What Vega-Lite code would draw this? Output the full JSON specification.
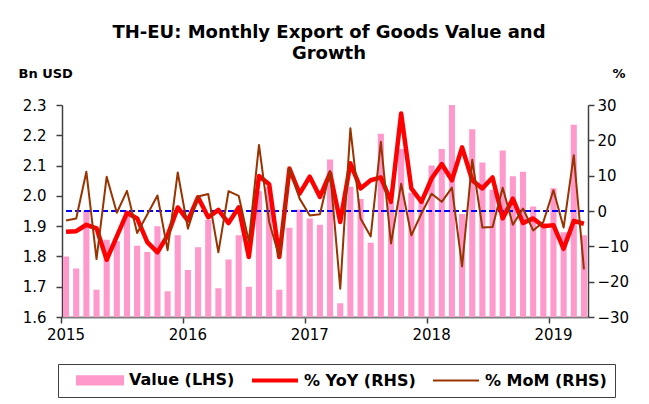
{
  "$schema": "https://vega.github.io/schema/vega-lite/v6.json",
  "width": 526,
  "height": 212,
  "autosize": {"type": "none"},
  "padding": {"left": 62, "top": 105, "right": 61, "bottom": 87},
  "background": "white",
  "config": {
    "view": {"stroke": null},
    "font": "DejaVu Sans",
    "axis": {"grid": false, "labelFont": "DejaVu Sans", "labelFontSize": 15, "labelColor": "#000000", "tickColor": "#404040", "domainColor": "#404040", "tickSize": 6, "domainWidth": 1.5, "tickWidth": 1.5, "labelOverlap": false}
  },
  "title": {
    "text": ["TH-EU: Monthly Export of Goods Value and", "Growth"],
    "font": "DejaVu Sans",
    "fontSize": 18,
    "fontWeight": "bold",
    "color": "#000000",
    "anchor": "middle",
    "lineHeight": 21,
    "dx": 4,
    "offset": 4
  },
  "data": {
    "values": [
      {"month": "2015-01", "value": 1.80, "yoy": -5.9, "mom": -2.7},
      {"month": "2015-02", "value": 1.76, "yoy": -5.7, "mom": -2.1},
      {"month": "2015-03", "value": 1.95, "yoy": -3.9, "mom": 11.1},
      {"month": "2015-04", "value": 1.69, "yoy": -4.9, "mom": -13.6},
      {"month": "2015-05", "value": 1.855, "yoy": -13.8, "mom": 9.7},
      {"month": "2015-06", "value": 1.85, "yoy": -7.2, "mom": -0.5},
      {"month": "2015-07", "value": 1.95, "yoy": -0.5, "mom": 5.7},
      {"month": "2015-08", "value": 1.835, "yoy": -2.1, "mom": -6.2},
      {"month": "2015-09", "value": 1.815, "yoy": -8.8, "mom": -1.0},
      {"month": "2015-10", "value": 1.90, "yoy": -11.7, "mom": 4.4},
      {"month": "2015-11", "value": 1.685, "yoy": -6.9, "mom": -11.1},
      {"month": "2015-12", "value": 1.87, "yoy": 1.0, "mom": 10.9},
      {"month": "2016-01", "value": 1.755, "yoy": -2.7, "mom": -5.0},
      {"month": "2016-02", "value": 1.83, "yoy": 3.9, "mom": 4.1},
      {"month": "2016-03", "value": 1.92, "yoy": -1.8, "mom": 4.8},
      {"month": "2016-04", "value": 1.695, "yoy": 0.3, "mom": -11.7},
      {"month": "2016-05", "value": 1.79, "yoy": -3.4, "mom": 5.6},
      {"month": "2016-06", "value": 1.87, "yoy": 1.0, "mom": 4.3},
      {"month": "2016-07", "value": 1.70, "yoy": -13.0, "mom": -8.6},
      {"month": "2016-08", "value": 2.015, "yoy": 9.9, "mom": 18.7},
      {"month": "2016-09", "value": 2.03, "yoy": 7.6, "mom": -3.1},
      {"month": "2016-10", "value": 1.69, "yoy": -13.0, "mom": -13.0},
      {"month": "2016-11", "value": 1.895, "yoy": 12.0, "mom": 12.2},
      {"month": "2016-12", "value": 1.955, "yoy": 4.9, "mom": 3.5},
      {"month": "2017-01", "value": 1.925, "yoy": 9.7, "mom": -1.3},
      {"month": "2017-02", "value": 1.905, "yoy": 4.0, "mom": -0.9},
      {"month": "2017-03", "value": 2.12, "yoy": 10.7, "mom": 11.3},
      {"month": "2017-04", "value": 1.645, "yoy": -3.1, "mom": -22.0},
      {"month": "2017-05", "value": 2.03, "yoy": 13.5, "mom": 23.4},
      {"month": "2017-06", "value": 1.99, "yoy": 6.4, "mom": -2.1},
      {"month": "2017-07", "value": 1.845, "yoy": 8.7, "mom": -7.2},
      {"month": "2017-08", "value": 2.205, "yoy": 9.5, "mom": 19.6},
      {"month": "2017-09", "value": 1.98, "yoy": 2.6, "mom": -9.2},
      {"month": "2017-10", "value": 2.155, "yoy": 27.6, "mom": 7.7},
      {"month": "2017-11", "value": 2.01, "yoy": 6.4, "mom": -6.9},
      {"month": "2017-12", "value": 1.98, "yoy": 2.6, "mom": -0.7},
      {"month": "2018-01", "value": 2.10, "yoy": 9.2, "mom": 4.9},
      {"month": "2018-02", "value": 2.155, "yoy": 13.3, "mom": 2.6},
      {"month": "2018-03", "value": 2.30, "yoy": 8.7, "mom": 6.6},
      {"month": "2018-04", "value": 1.94, "yoy": 18.0, "mom": -15.7},
      {"month": "2018-05", "value": 2.22, "yoy": 8.7, "mom": 14.5},
      {"month": "2018-06", "value": 2.11, "yoy": 6.4, "mom": -4.7},
      {"month": "2018-07", "value": 2.02, "yoy": 9.5, "mom": -4.5},
      {"month": "2018-08", "value": 2.15, "yoy": -2.1, "mom": 6.6},
      {"month": "2018-09", "value": 2.065, "yoy": 3.5, "mom": -3.9},
      {"month": "2018-10", "value": 2.08, "yoy": -3.4, "mom": 0.7},
      {"month": "2018-11", "value": 1.965, "yoy": -2.1, "mom": -5.5},
      {"month": "2018-12", "value": 1.91, "yoy": -4.3, "mom": -3.1},
      {"month": "2019-01", "value": 2.025, "yoy": -4.0, "mom": 5.9},
      {"month": "2019-02", "value": 1.88, "yoy": -10.7, "mom": -4.7},
      {"month": "2019-03", "value": 2.235, "yoy": -2.8, "mom": 15.8},
      {"month": "2019-04", "value": 1.87, "yoy": -3.6, "mom": -16.5}
    ]
  },
  "layer": [
    {
      "mark": {"type": "bar", "color": "#ff99cc", "clip": true},
      "encoding": {
        "x": {
          "field": "month", "type": "ordinal",
          "scale": {"paddingInner": 0.4, "paddingOuter": 0.1},
          "axis": {"values": ["2015-01", "2016-01", "2017-01", "2018-01", "2019-01"], "labelExpr": "substring(datum.value, 0, 4)", "bandPosition": -0.17, "title": null, "labelAngle": 0, "domainColor": "#808080", "domainWidth": 2, "labelPadding": 4}
        },
        "y": {
          "field": "value", "type": "quantitative",
          "scale": {"domain": [1.6, 2.3], "zero": false, "nice": false},
          "axis": {"values": [1.6, 1.7, 1.8, 1.9, 2.0, 2.1, 2.2, 2.3], "format": ".1f", "title": "Bn USD", "titleAngle": 0, "titleAlign": "left", "titleBaseline": "alphabetic", "titleX": -44, "titleY": -28, "titleFont": "DejaVu Sans", "titleFontSize": 13, "titleFontWeight": "bold", "titleColor": "#000000", "labelPadding": 10}
        },
        "color": {
          "datum": "Value (LHS)", "type": "nominal",
          "scale": {"domain": ["Value (LHS)", "% YoY (RHS)", "% MoM (RHS)"], "range": ["#ff99cc", "#ff0000", "#993300"]},
          "legend": {
            "title": null, "orient": "none", "legendX": -4, "legendY": 259, "direction": "horizontal",
            "strokeColor": "#404040", "padding": 8, "columnPadding": 6, "labelOffset": 6, "symbolSize": 2116,
            "labelFont": "DejaVu Sans", "labelFontSize": 16, "labelFontWeight": "bold", "labelColor": "#000000", "labelLimit": 0, "symbolOpacity": 1,
            "encode": {
              "symbols": {
                "update": {
                  "x": {"value": 34},
                  "shape": {"signal": "datum.value === 'Value (LHS)' ? 'M-1,-0.18H1V0.18H-1Z' : 'stroke'"},
                  "size": {"value": 2116},
                  "fill": {"signal": "datum.value === 'Value (LHS)' ? '#ff99cc' : 'transparent'"},
                  "stroke": {"signal": "datum.value === 'Value (LHS)' ? 'transparent' : (datum.value === '% YoY (RHS)' ? '#ff0000' : '#993300')"},
                  "strokeWidth": {"signal": "datum.value === '% YoY (RHS)' ? 4 : 2"}
                }
              },
              "labels": {
                "update": {
                  "x": {"value": 63}
                }
              }
            }
          }
        }
      }
    },
    {
      "layer": [
        {
          "data": {"values": [{"level": 0}]},
          "mark": {"type": "rule", "color": "#0000ff", "strokeDash": [6, 3], "strokeWidth": 2},
          "encoding": {
            "x": {"datum": "2015-01", "type": "ordinal"},
            "x2": {"datum": "2019-04"},
            "y": {
              "field": "level", "type": "quantitative",
              "scale": {"domain": [-30, 30], "nice": false, "zero": false},
              "axis": {"orient": "right", "values": [-30, -20, -10, 0, 10, 20, 30], "title": "%", "titleAngle": 0, "titleAlign": "left", "titleBaseline": "alphabetic", "titleX": 24, "titleY": -28, "titleFont": "DejaVu Sans", "titleFontSize": 13, "titleFontWeight": "bold", "titleColor": "#000000", "labelPadding": 3}
            }
          }
        },
        {
          "mark": {"type": "line", "strokeWidth": 4.5, "strokeJoin": "round"},
          "encoding": {
            "x": {"field": "month", "type": "ordinal"},
            "y": {
              "field": "yoy", "type": "quantitative",
              "scale": {"domain": [-30, 30], "nice": false, "zero": false},
              "axis": {"orient": "right", "values": [-30, -20, -10, 0, 10, 20, 30], "title": "%", "titleAngle": 0, "titleAlign": "left", "titleBaseline": "alphabetic", "titleX": 24, "titleY": -28, "titleFont": "DejaVu Sans", "titleFontSize": 13, "titleFontWeight": "bold", "titleColor": "#000000", "labelPadding": 3}
            },
            "color": {"datum": "% YoY (RHS)", "type": "nominal"}
          }
        },
        {
          "mark": {"type": "line", "strokeWidth": 2, "strokeJoin": "round"},
          "encoding": {
            "x": {"field": "month", "type": "ordinal"},
            "y": {
              "field": "mom", "type": "quantitative",
              "scale": {"domain": [-30, 30], "nice": false, "zero": false},
              "axis": {"orient": "right", "values": [-30, -20, -10, 0, 10, 20, 30], "title": "%", "titleAngle": 0, "titleAlign": "left", "titleBaseline": "alphabetic", "titleX": 24, "titleY": -28, "titleFont": "DejaVu Sans", "titleFontSize": 13, "titleFontWeight": "bold", "titleColor": "#000000", "labelPadding": 3}
            },
            "color": {"datum": "% MoM (RHS)", "type": "nominal"}
          }
        }
      ]
    }
  ],
  "resolve": {"scale": {"y": "independent"}}
}
